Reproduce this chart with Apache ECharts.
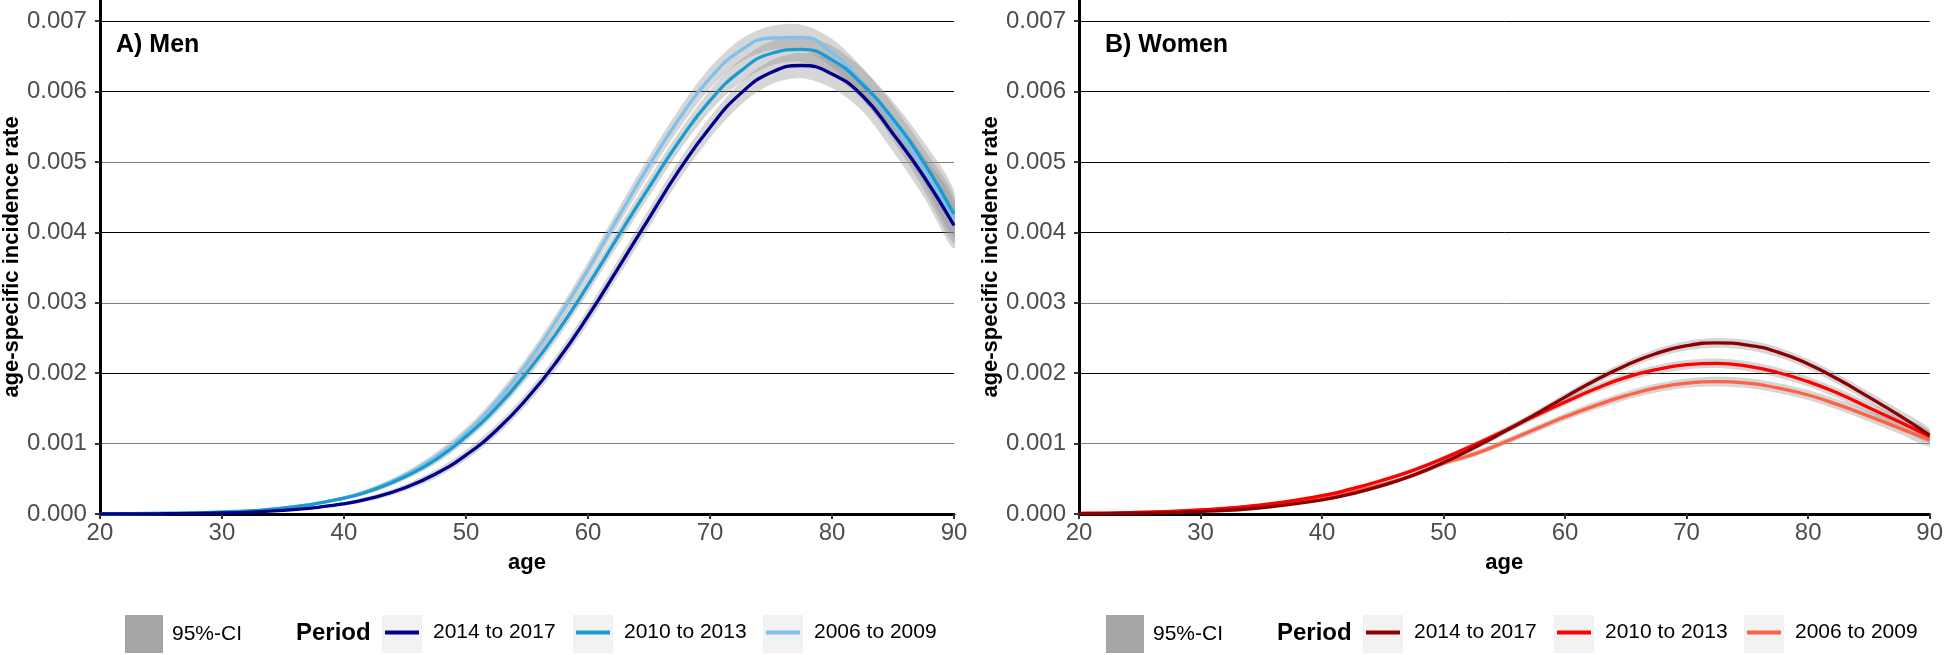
<!DOCTYPE html>
<html><head><meta charset="utf-8">
<script src="https://cdn.jsdelivr.net/npm/echarts@6/dist/echarts.min.js"></script>
<style>html,body{margin:0;padding:0;background:#fff}#c{width:1946px;height:655px}</style>
</head><body><div id="c"></div>
<script>
// ---- data ----
const ages = [20,25,30,35,40,42.5,45,47.5,50,52.5,55,57.5,60,62.5,65,67.5,70,72.5,75,77.5,80,82.5,85,87.5,90];
const xTicks = [20,30,40,50,60,70,80,90];
const yTicks = [0,0.001,0.002,0.003,0.004,0.005,0.006,0.007];
const periods = ['2014 to 2017','2010 to 2013','2006 to 2009'];

const men2014 = [0.000001,0.000004,0.000015,0.00005,0.000145,0.000237,0.000373,0.000568,0.000837,0.00119,0.00164,0.00218,0.00281,0.0035,0.0042,0.00489,0.00549,0.00597,0.00627,0.00637,0.00625,0.00594,0.0054,0.0048,0.0041];
const men2010 = [0.000002,0.000008,0.000028,0.000085,0.000225,0.00035,0.00053,0.00077,0.0011,0.00151,0.00201,0.00259,0.00325,0.00395,0.00464,0.0053,0.00587,0.00629,0.00654,0.0066,0.00645,0.0061,0.00561,0.005,0.00426];
const men2006 = [0.000002,0.000007,0.000026,0.000083,0.000227,0.000358,0.00055,0.00081,0.00115,0.0016,0.00214,0.00277,0.00347,0.00422,0.00495,0.00562,0.00619,0.00658,0.00676,0.00677,0.00655,0.00612,0.00556,0.0049,0.00418];
const menCI = [0.000001,0.000003,0.000006,0.000012,0.000025,0.000035,0.000045,0.00006,0.00007,0.00008,0.00009,0.0001,0.00011,0.00012,0.00013,0.00014,0.00015,0.00016,0.00017,0.00018,0.0002,0.00022,0.00025,0.00029,0.00033];

const women2014 = [0.000004,0.000012,0.000035,0.000089,0.0002,0.00029,0.000406,0.00055,0.00073,0.00094,0.00117,0.00141,0.00166,0.0019,0.00211,0.00228,0.00239,0.00243,0.0024,0.0023,0.00213,0.00191,0.00166,0.0014,0.00112];
const women2010 = [0.000008,0.000023,0.000057,0.000129,0.00026,0.00036,0.00048,0.00062,0.00079,0.00098,0.00118,0.00139,0.00159,0.00178,0.00194,0.00205,0.00212,0.00214,0.0021,0.00201,0.00188,0.00171,0.00151,0.00131,0.0011];
const women2006 = [0.000008,0.000022,0.000054,0.000118,0.000234,0.00032,0.00042,0.00055,0.00072,0.00085,0.00102,0.0012,0.00138,0.00154,0.00168,0.00179,0.00186,0.00188,0.00186,0.00179,0.00169,0.00155,0.00139,0.00122,0.00105];
const womenCI = [0.000003,0.000005,0.000009,0.000013,0.00002,0.000024,0.000028,0.000032,0.000036,0.00004,0.000044,0.000048,0.000052,0.000056,0.00006,0.000063,0.000066,0.000068,0.00007,0.00007,0.00007,0.000072,0.000075,0.00008,0.00009];

const menColors = ['#00008b','#1a9bd1','#80c1ec'];
const womenColors = ['#8b0000','#ff0000','#ff6347'];
// ---- end data ----

const FONT = 'Liberation Sans, Arial, Helvetica, sans-serif';
const chart = echarts.init(document.getElementById('c'));

function band(idx, mid, half) {
  return {
    type: 'custom', name: '95%-CI', xAxisIndex: idx, yAxisIndex: idx, clip: true, silent: true, z: 1,
    itemStyle: {color: '#a6a6a6'},
    data: ages.map((a, i) => [a, mid[i] - half[i], mid[i] + half[i]]),
    encode: {x: 0, y: [1, 2]},
    renderItem: function (params, api) {
      if (params.dataIndex !== 0) return null;
      const up = [], lo = [];
      for (let i = 0; i < ages.length; i++) {
        up.push(api.coord([ages[i], mid[i] + half[i]]));
        lo.push(api.coord([ages[i], mid[i] - half[i]]));
      }
      return {type: 'polygon', shape: {points: up.concat(lo.reverse()), smooth: 0.3},
              style: {fill: 'rgba(140,140,140,0.36)'}};
    }
  };
}
function line(idx, name, vals, color) {
  return {
    type: 'line', name: name, xAxisIndex: idx, yAxisIndex: idx, smooth: true, symbol: 'none',
    showSymbol: false, z: 3, silent: true,
    lineStyle: {color: color, width: 3.3}, itemStyle: {color: color},
    data: ages.map((a, i) => [a, vals[i]])
  };
}
function xAxis(idx) {
  return {
    gridIndex: idx, type: 'value', min: 20, max: 90, interval: 10,
    name: 'age', nameLocation: 'middle', nameGap: 38,
    nameTextStyle: {fontSize: 22, fontWeight: 'bold', color: '#000', fontFamily: FONT},
    axisLine: {show: true, lineStyle: {color: '#000', width: 3}},
    axisTick: {show: true, length: 5, lineStyle: {color: '#333', width: 2}},
    axisLabel: {fontSize: 24, color: '#4d4d4d', margin: 7, fontFamily: FONT},
    splitLine: {show: false}
  };
}
function yAxis(idx, colors) {
  return {
    gridIndex: idx, type: 'value', min: 0, max: 0.0073, interval: 0.001,
    name: 'age-specific incidence rate', nameLocation: 'middle', nameGap: 70, nameRotate: 90,
    nameTextStyle: {fontSize: 22, fontWeight: 'bold', color: '#000', fontFamily: FONT},
    axisLine: {show: true, lineStyle: {color: '#000', width: 3}},
    axisTick: {show: true, length: 5, customValues: yTicks, lineStyle: {color: '#333', width: 2}},
    axisLabel: {fontSize: 24, color: '#4d4d4d', margin: 13, fontFamily: FONT, customValues: yTicks,
                formatter: v => v.toFixed(3)},
    splitLine: {show: true, lineStyle: {color: colors, width: 1}}
  };
}
function legends(off, colors) {
  const base = {orient: 'horizontal', selectedMode: false, padding: 0, icon: 'rect',
    textStyle: {fontSize: 21, color: '#000', fontFamily: FONT}};
  const out = [Object.assign({}, base, {left: 125 + off, top: 615, itemWidth: 38, itemHeight: 38,
      textStyle: {fontSize: 21, color: '#000', fontFamily: FONT, padding: [0, 0, 0, 4]},
      data: [{name: '95%-CI', itemStyle: {color: '#a6a6a6'}}]})];
  const lefts = [385, 576, 766];
  periods.forEach((p, i) => {
    out.push(Object.assign({}, base, {left: lefts[i] + off, top: 622, itemWidth: 34, itemHeight: 4,
      textStyle: {fontSize: 21, color: '#000', fontFamily: FONT, padding: [0, 0, 0, 9]},
      data: [{name: p, itemStyle: {color: colors[i]}}]}));
  });
  return out;
}
function keyBgs(off) {
  const g = [];
  [382, 573, 763].forEach(l => g.push({type: 'rect', left: l + off, top: 615, z: 0,
    shape: {width: 40, height: 38}, style: {fill: '#f2f2f2'}}));
  g.push({type: 'text', left: 296 + off, top: 621, z: 5,
    style: {text: 'Period', font: 'bold 24px ' + FONT, fill: '#000'}});
  return g;
}

const leftSplit = ['#000','#7f7f7f','#000','#7f7f7f','#000','#7f7f7f','#000','#000'];
const rightSplit = ['#000','#7f7f7f','#000','#7f7f7f','#000','#000','#000','#000'];

chart.setOption({
  animation: false,
  backgroundColor: '#fff',
  textStyle: {fontFamily: FONT},
  title: [
    {text: 'A) Men', left: 116, top: 33, padding: 0, textStyle: {fontSize: 25, fontWeight: 'bold', color: '#000', fontFamily: FONT}},
    {text: 'B) Women', left: 1105, top: 33, padding: 0, textStyle: {fontSize: 25, fontWeight: 'bold', color: '#000', fontFamily: FONT}}
  ],
  grid: [
    {left: 98, width: 856, top: 0, height: 514},
    {left: 1079, width: 854, top: 0, height: 514}
  ],
  xAxis: [xAxis(0), xAxis(1)],
  yAxis: [yAxis(0, leftSplit), yAxis(1, rightSplit)],
  legend: legends(0, menColors).concat(legends(981, womenColors)),
  graphic: keyBgs(0).concat(keyBgs(981)),
  series: [
    band(0, men2006, menCI), band(0, men2010, menCI), band(0, men2014, menCI),
    band(1, women2006, womenCI), band(1, women2010, womenCI), band(1, women2014, womenCI),
    line(0, periods[2], men2006, menColors[2]),
    line(0, periods[1], men2010, menColors[1]),
    line(0, periods[0], men2014, menColors[0]),
    line(1, periods[2], women2006, womenColors[2]),
    line(1, periods[1], women2010, womenColors[1]),
    line(1, periods[0], women2014, womenColors[0])
  ]
});
</script></body></html>
